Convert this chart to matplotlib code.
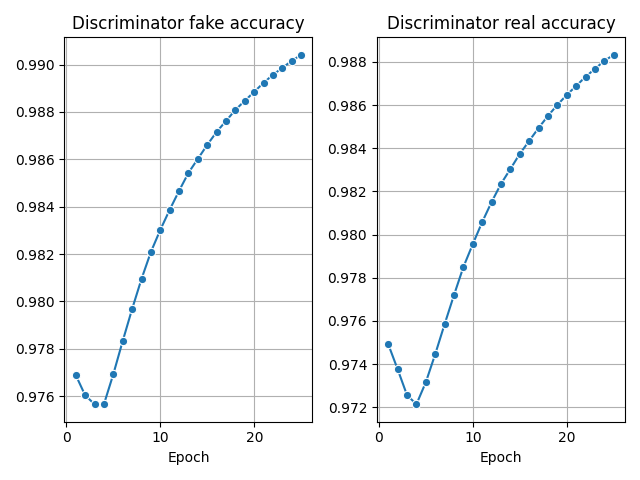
import matplotlib
matplotlib.use('Agg')
import matplotlib.pyplot as plt

epochs = list(range(1, 26))
fake_acc = [0.97689, 0.97604, 0.97566, 0.97566, 0.97693, 0.97833, 0.97968,
            0.98095, 0.98209, 0.98302, 0.98387, 0.98467, 0.98543, 0.98602,
            0.98661, 0.98716, 0.98762, 0.98809, 0.98847, 0.98885, 0.98923,
            0.98957, 0.98986, 0.99016, 0.99041]
real_acc = [0.97492, 0.97376, 0.97256, 0.97214, 0.97316, 0.97446, 0.97585,
            0.97720, 0.97850, 0.97956, 0.98058, 0.98151, 0.98235, 0.98304,
            0.98374, 0.98434, 0.98494, 0.98550, 0.98601, 0.98647, 0.98689,
            0.98731, 0.98768, 0.98805, 0.98833]

fig, axes = plt.subplots(1, 2, figsize=(6.4, 4.8), dpi=100)
for ax, vals, title in zip(axes, [fake_acc, real_acc],
                           ['Discriminator fake accuracy',
                            'Discriminator real accuracy']):
    ax.plot(epochs, vals, color='#1f77b4', marker='o', markersize=6,
            markeredgecolor='white', markeredgewidth=0.8)
    ax.set_title(title)
    ax.set_xlabel('Epoch')
    ax.grid(True, color='#b0b0b0')
    ax.set_axisbelow(True)

fig.tight_layout()
fig.savefig('out.png')
